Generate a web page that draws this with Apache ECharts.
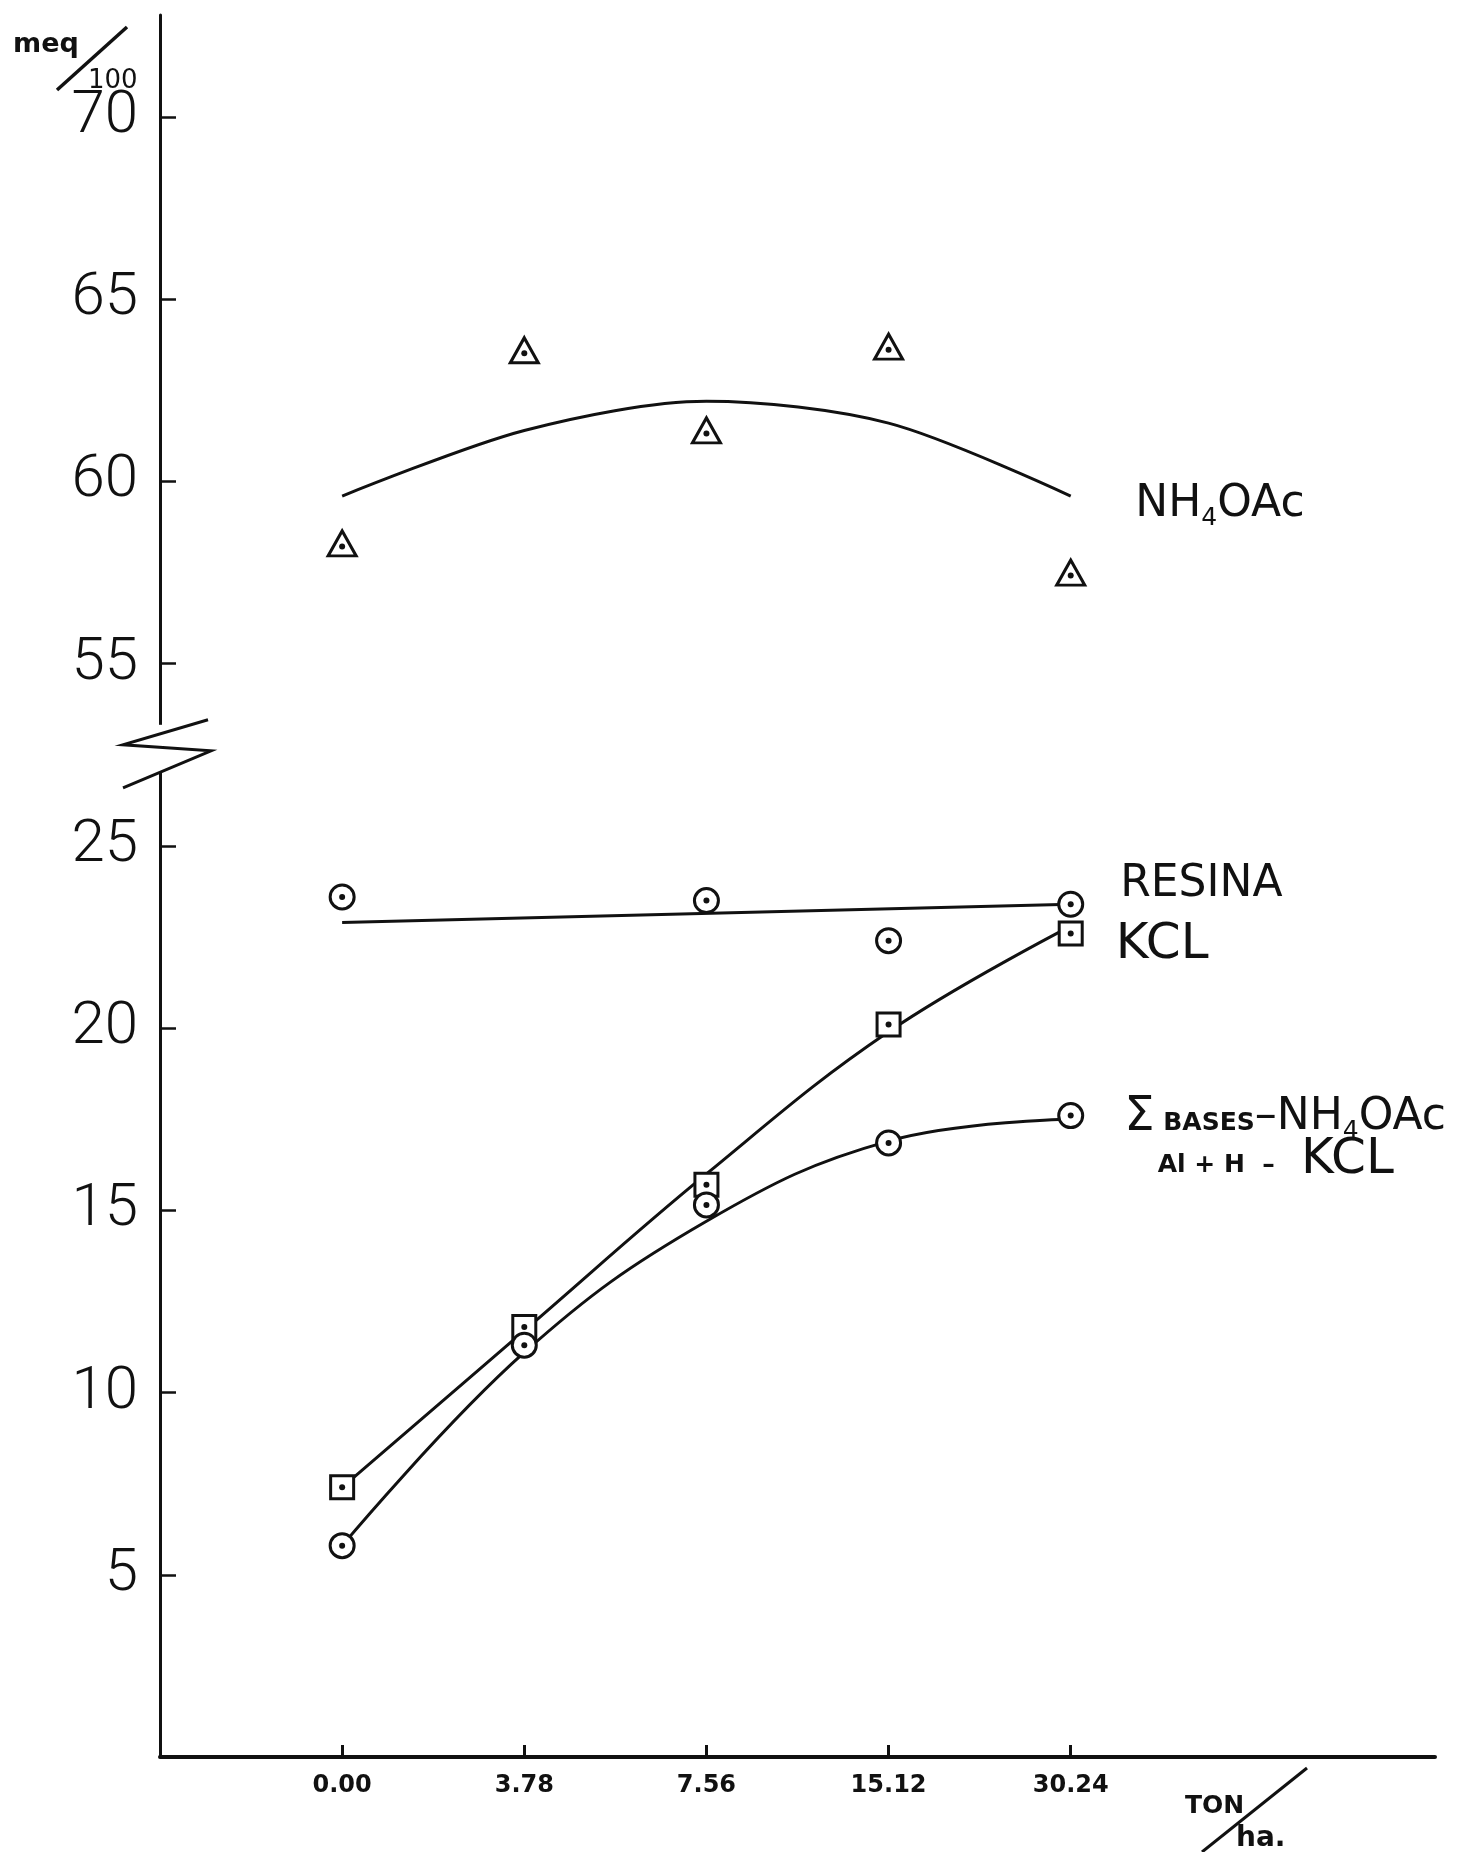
<!DOCTYPE html>
<html>
<head>
<meta charset="utf-8">
<script src="https://cdn.jsdelivr.net/npm/echarts@6.0.0/dist/echarts.min.js"></script>
<style>
  html, body { margin: 0; padding: 0; background: #fff; }
  #chart { width: 1469px; height: 1852px; }
</style>
</head>
<body>
<div id="chart"></div>
<script>
// Dose levels (TON/ha) and exchange values (meq/100 g)
const categories = ['0.00', '3.78', '7.56', '15.12', '30.24'];
const yTicks = [5, 10, 15, 20, 25, 55, 60, 65, 70];

const nh4oacPoints = [58.3, 63.6, 61.4, 63.7, 57.5];
const nh4oacCurve  = [59.6, 61.4, 62.2, 61.6, 59.6];
const resinaPoints = [23.6, null, 23.5, 22.4, 23.4];
const resinaLine   = [22.9, null, null, null, 23.4];
const kclPoints    = [7.4, 11.8, 15.7, 20.1, 22.6];
const kclCurve     = [7.4, 11.7, 16.0, 19.9, 22.8];
const sumPoints    = [5.8, 11.3, 15.15, 16.85, 17.6];
const sumCurve     = [5.8, 11.1, 14.7, 16.9, 17.5];

// Broken value axis: the span 25..55 is squeezed into a single 5-unit step
const BREAK_LOW = 25, BREAK_HIGH = 55, BREAK_STEP = 5;
const SHIFT = BREAK_HIGH - BREAK_LOW - BREAK_STEP;
const toAxis = v => (v >= BREAK_HIGH ? v - SHIFT : v);
const fromAxis = d => (d > BREAK_LOW + BREAK_STEP / 2 ? d + SHIFT : d);

const INK = '#111';
const FONT = '"DejaVu Sans", "Liberation Sans", sans-serif';

function pairs(values, endLabel) {
  const out = [];
  values.forEach((v, i) => { if (v != null) out.push({ value: [i, toAxis(v)] }); });
  if (endLabel) out[out.length - 1].label = endLabel;
  return out;
}

const rich = {
  b:   { fontSize: 44, fontFamily: FONT, color: INK, verticalAlign: 'middle' },
  k:   { fontSize: 50, fontFamily: FONT, color: INK, verticalAlign: 'middle' },
  s:   { fontSize: 25, fontFamily: FONT, color: INK, verticalAlign: 'middle', padding: [28, 0, 0, 0] },
  sm:  { fontSize: 25, fontFamily: FONT, color: INK, fontWeight: 'bold', verticalAlign: 'middle', padding: [12, 0, 0, 0] },
  sig: { fontSize: 48, fontFamily: FONT, color: INK, verticalAlign: 'middle' }
};

function endLabel(text, distance, dy) {
  return { show: true, position: 'right', distance: distance, offset: [0, dy], formatter: text, rich: rich };
}

const lineBase = {
  type: 'line', symbol: 'none', silent: true, z: 2, smooth: 0.4,
  lineStyle: { color: INK, width: 3 }
};
const markerBase = {
  type: 'scatter', silent: true, z: 3,
  itemStyle: { color: '#fff', borderColor: INK, borderWidth: 3, opacity: 1 }
};
const dotBase = {
  type: 'scatter', silent: true, z: 4, symbol: 'circle', symbolSize: 6,
  itemStyle: { color: INK, opacity: 1 }
};

const chart = echarts.init(document.getElementById('chart'), null, { renderer: 'canvas' });

chart.setOption({
  animation: false,
  backgroundColor: '#fff',
  grid: { left: 160, right: 34, top: 15, bottom: 95, outerBoundsMode: 'none' },
  xAxis: {
    type: 'value', min: -1, max: 6,
    splitLine: { show: false },
    axisLine: { onZero: false, lineStyle: { color: INK, width: 4 } },
    axisTick: { customValues: [0, 1, 2, 3, 4], inside: true, length: 12, lineStyle: { color: INK, width: 3 } },
    axisLabel: {
      customValues: [0, 1, 2, 3, 4],
      formatter: v => categories[v],
      color: INK, fontFamily: FONT, fontWeight: 'bold', fontSize: 24, margin: 17
    }
  },
  yAxis: {
    type: 'value', min: 0, max: 47.8,
    splitLine: { show: false },
    axisLine: { onZero: false, lineStyle: { color: INK, width: 3 } },
    axisTick: { customValues: yTicks.map(toAxis), inside: true, length: 16, lineStyle: { color: INK, width: 2.5 } },
    axisLabel: {
      customValues: yTicks.map(toAxis),
      formatter: d => String(fromAxis(d)),
      color: INK, fontFamily: 'Roboto, "DejaVu Sans", sans-serif', fontWeight: 300, fontSize: 60, margin: 22
    }
  },
  series: [
    // fitted curves
    Object.assign({}, lineBase, { name: 'NH4OAc fit', smooth: 0.3, data: pairs(nh4oacCurve) }),
    Object.assign({}, lineBase, { name: 'RESINA fit', smooth: false, data: pairs(resinaLine) }),
    Object.assign({}, lineBase, { name: 'KCL fit', data: pairs(kclCurve) }),
    Object.assign({}, lineBase, { name: 'Bases fit', data: pairs(sumCurve) }),
    // measured points
    Object.assign({}, markerBase, {
      name: 'NH4OAc', symbol: 'triangle', symbolSize: [28, 25],
      data: pairs(nh4oacPoints, endLabel('{b|NH}{s|4}{b|OAc}', 49, -68))
    }),
    Object.assign({}, markerBase, {
      name: 'RESINA', symbol: 'circle', symbolSize: 24,
      data: pairs(resinaPoints, endLabel('{b|RESINA}', 36, -20))
    }),
    Object.assign({}, markerBase, {
      name: 'KCL', symbol: 'rect', symbolSize: 23,
      data: pairs(kclPoints, endLabel('{k|KCL}', 32, 12))
    }),
    Object.assign({}, markerBase, {
      name: 'Bases', symbol: 'circle', symbolSize: 24,
      data: pairs(sumPoints, endLabel('{sig|Σ}{sm| BASES}{b|–NH}{s|4}{b|OAc}', 40, 2))
    }),
    // centre dots of the markers
    Object.assign({}, dotBase, { data: pairs(nh4oacPoints), symbolOffset: [0, 3] }),
    Object.assign({}, dotBase, { data: pairs(resinaPoints) }),
    Object.assign({}, dotBase, { data: pairs(kclPoints) }),
    Object.assign({}, dotBase, {
      data: pairs(sumPoints, endLabel('{sm|Al + H  –   }{k|KCL}', 84, 44))
    })
  ]
});

// Axis break mark and axis names
const c = chart.convertToPixel({ gridIndex: 0 }, [-1, BREAK_LOW + BREAK_STEP / 2]);
const bx = c[0], by = c[1];
chart.setOption({
  graphic: [
    { type: 'rect', z: 50, shape: { x: bx - 8, y: by - 30, width: 16, height: 47 }, style: { fill: '#fff' } },
    {
      type: 'polyline', z: 51,
      shape: { points: [[bx + 48, by - 35], [bx - 37, by - 10], [bx + 51, by - 4], [bx - 37, by + 33]] },
      style: { stroke: INK, lineWidth: 3, fill: null, lineJoin: 'miter' }
    },
    { type: 'text', z: 50, x: 13, y: 45, style: { text: 'meq', fill: INK, font: 'bold 27px "DejaVu Sans"', verticalAlign: 'middle' } },
    { type: 'line', z: 50, shape: { x1: 57, y1: 90, x2: 127, y2: 27 }, style: { stroke: INK, lineWidth: 3.5 } },
    { type: 'text', z: 50, x: 88, y: 81, style: { text: '100', fill: INK, font: '26px "DejaVu Sans"', verticalAlign: 'middle' } },
    { type: 'text', z: 50, x: 1185, y: 1806, style: { text: 'TON', fill: INK, font: 'bold 25px "DejaVu Sans"', verticalAlign: 'middle' } },
    { type: 'line', z: 50, shape: { x1: 1202, y1: 1852, x2: 1307, y2: 1768 }, style: { stroke: INK, lineWidth: 3 } },
    { type: 'text', z: 50, x: 1236, y: 1839, style: { text: 'ha.', fill: INK, font: 'bold 28px "DejaVu Sans"', verticalAlign: 'middle' } }
  ]
});
</script>
</body>
</html>
